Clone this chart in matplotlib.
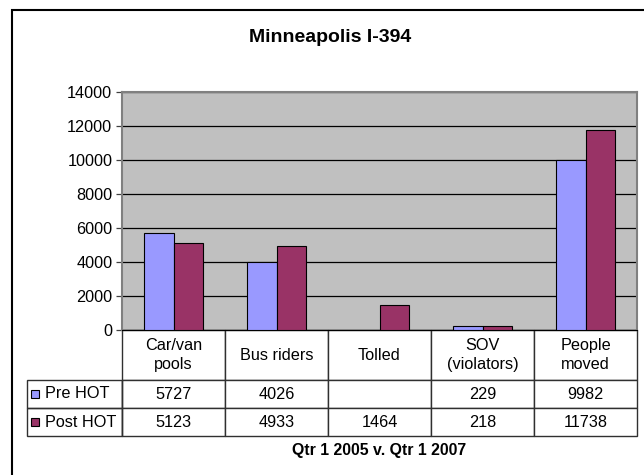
import numpy as np
import matplotlib.pyplot as plt
from matplotlib.patches import Rectangle

plt.rcParams['font.family'] = ['Liberation Sans', 'DejaVu Sans']

categories = ["Car/van\npools", "Bus riders", "Tolled", "SOV\n(violators)", "People\nmoved"]
series_names = ["Pre HOT", "Post HOT"]
pre_hot = [5727, 4026, np.nan, 229, 9982]
post_hot = [5123, 4933, 1464, 218, 11738]
colors = ["#9999FF", "#993366"]

W, H = 644, 475
fig = plt.figure(figsize=(W / 100, H / 100), dpi=100)

# plot area in pixel terms
pl, pr, pt, pb = 122, 637, 92, 330
ax = fig.add_axes([pl / W, 1 - pb / H, (pr - pl) / W, (pb - pt) / H])
ax.set_facecolor("#C0C0C0")


def px(x, y):
    """pixel position -> axes fraction"""
    return (x - pl) / (pr - pl), (pb - y) / (pb - pt)


# chart frame (only left/top visible)
fig.patches.append(Rectangle((12 / W, -0.2), 1.2, 1.2 - 10 / H,
                             transform=fig.transFigure, fill=False,
                             edgecolor="black", lw=1.5, zorder=0))

x = np.arange(len(categories))
bw = 1 / 3.5
for i, (vals, col) in enumerate(zip([pre_hot, post_hot], colors)):
    ax.bar(x + (i - 0.5) * bw, vals, width=bw, color=col, edgecolor="black",
           lw=0.8, zorder=3)

ax.set_xlim(-0.5, len(categories) - 0.5)
ax.set_ylim(0, 14000)
ax.set_yticks(np.arange(0, 14001, 2000))
ax.set_xticks([])
ax.yaxis.grid(True, color="black", lw=0.9)
ax.set_axisbelow(True)
ax.tick_params(axis="y", length=4, width=0.9, pad=3, labelsize=11.7, color="#404040")
for side in ["top", "right", "left"]:
    ax.spines[side].set_color("#808080")
    ax.spines[side].set_linewidth(1.5)
ax.spines["bottom"].set_color("black")

# data table below the plot
cell_text = [["" if np.isnan(v) else f"{int(v)}" for v in vals]
             for vals in (pre_hot, post_hot)]
y_bottom = px(0, 436)[1]
tbl = ax.table(cellText=cell_text, rowLabels=["", ""], colLabels=categories,
               cellLoc="center", bbox=[0, y_bottom, 1, -y_bottom])
tbl.auto_set_font_size(False)
tbl.set_fontsize(11.7)
row_h = [50, 28, 28]
for (r, c), cell in tbl.get_celld().items():
    cell.set_height(row_h[r])
    cell.set_width(103)
    cell.set_edgecolor("#303030")
    cell.set_linewidth(1.0)
    cell.get_text().set_linespacing(1.3)

# row label cells with legend keys
row_edges = [380, 408, 436]
for r, (name, col) in enumerate(zip(series_names, colors)):
    top, bot = row_edges[r], row_edges[r + 1]
    lx0, ly0 = px(27, bot)
    lx1, ly1 = px(122, top)
    ax.add_patch(Rectangle((lx0, ly0), lx1 - lx0, ly1 - ly0, transform=ax.transAxes,
                           fill=False, edgecolor="#303030", lw=1.0, clip_on=False))
    yc = (top + bot) / 2
    x0, y0 = px(31, yc + 4)
    x1, y1 = px(39, yc - 4)
    ax.add_patch(Rectangle((x0, y0), x1 - x0, y1 - y0, transform=ax.transAxes,
                           facecolor=col, edgecolor="black", lw=0.8, clip_on=False))
    ax.text(*px(45, yc), name, transform=ax.transAxes, ha="left", va="center",
            fontsize=11.7)

fig.text(330 / W, 1 - 37 / H, "Minneapolis I-394", ha="center", va="center",
         fontsize=14, fontweight="bold")
fig.text(379 / W, 1 - 450 / H, "Qtr 1 2005 v. Qtr 1 2007", ha="center",
         va="center", fontsize=11.4, fontweight="bold")

fig.savefig("out.png", dpi=100)
